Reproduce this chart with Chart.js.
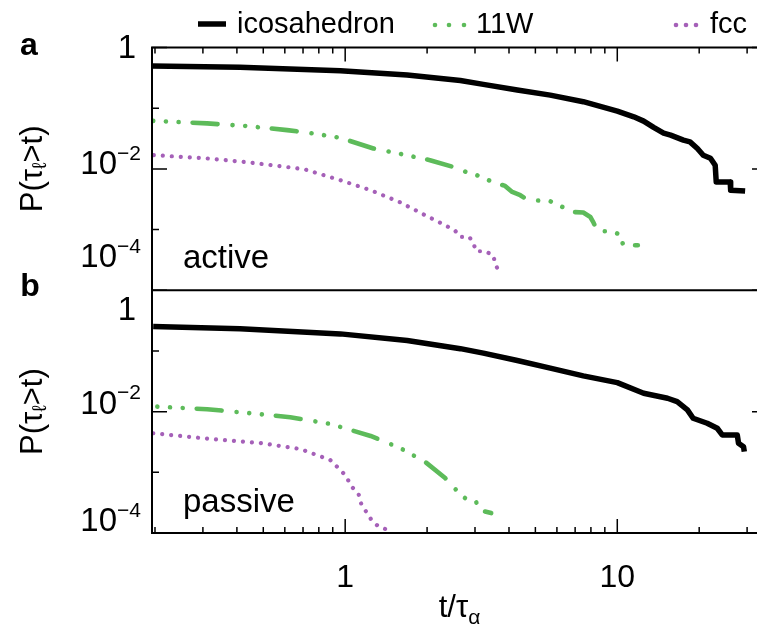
<!DOCTYPE html>
<html>
<head>
<meta charset="utf-8">
<script src="https://cdn.jsdelivr.net/npm/chart.js@4"></script>
<style>
 html,body{margin:0;padding:0;background:#fff;overflow:hidden}
 #wrap{width:790px;height:630px}
</style>
</head>
<body>
<div id="wrap"><canvas id="chart" width="790" height="630"></canvas></div>
<script>
/* ========= DATA ========= */

// panel a (active)
const aIcoT=[0.195,0.41,0.96,1.69,2.65,3.22,4.29,5.67,7.5,10,11.5,12.5,13.6,14.8,15.7,17.5,18.5,19.7,20.7,22.0,22.9,23.1,26.0,26.1,29.5]
const aIcoP=[0.495,0.471,0.414,0.352,0.285,0.247,0.199,0.164,0.128,0.0896,0.0721,0.0612,0.0482,0.0388,0.036,0.0298,0.0279,0.0217,0.0168,0.0150,0.0115,0.0061,0.0061,0.00445,0.0043]

const aW11T=[0.197,0.311,0.436,0.612,0.763,0.96,1.27,1.63,2.05,2.49,2.81,3.13,3.47,3.87,4.11,4.40,4.59,5.08,5.67,6.28,6.84,7.50,7.96,8.16,8.44,9.42,10.3,10.5,11.9]
const aW11P=[0.0619,0.0561,0.0507,0.0435,0.0384,0.0325,0.0217,0.0173,0.0139,0.0108,0.00872,0.00758,0.0061,0.00524,0.00417,0.00368,0.00325,0.00301,0.00293,0.00236,0.00195,0.00191,0.00161,0.00133,0.000937,0.000937,0.000826,0.000551,0.000551]

const aFccT=[0.198,0.311,0.422,0.577,0.713,0.96,1.24,1.59,1.97,2.33,2.54,2.65,2.86,2.96,3.03,3.27,3.50,3.56,3.65]
const aFccP=[0.01683,0.01485,0.01305,0.01109,0.00977,0.00651,0.00445,0.00282,0.00172,0.00118,0.000948,0.000755,0.000755,0.000588,0.000439,0.000439,0.000377,0.000275,0.000213]

// panel b (passive)
const bIcoT=[0.197,0.411,0.96,1.69,2.65,3.22,4.29,5.67,7.5,10,12.5,15.3,16.6,18.1,19.0,21.4,23.3,24.3,27.6,27.9,29.1,29.3]
const bIcoP=[0.253,0.232,0.191,0.1485,0.109,0.092,0.0695,0.052,0.0388,0.0301,0.0201,0.0166,0.0146,0.01067,0.00778,0.00644,0.00532,0.00413,0.00413,0.00301,0.00264,0.00219]

const bW11T=[0.204,0.311,0.448,0.628,0.881,1.24,1.59,1.97,2.33,2.60,2.81,3.03,3.11,3.44]
const bW11P=[0.0121,0.01095,0.00941,0.00809,0.00627,0.00397,0.00252,0.00148,0.000805,0.000473,0.000349,0.000324,0.000239,0.000213]

const bFccT=[0.197,0.327,0.487,0.684,0.881,1.0,1.06,1.12,1.145,1.19,1.25,1.32,1.42,1.46]
const bFccP=[0.0044,0.00351,0.00304,0.00242,0.0016,0.000902,0.000571,0.000438,0.000305,0.00023,0.000163,0.00013,0.000114,0.0001]

const seriesNames=["icosahedron","11W","fcc"]
const xTickLabels=[1,10]
const yTickLabels=[1,1e-2,1e-4]

/* ========= HELPERS ========= */

const FONT="'Liberation Sans', Arial, sans-serif"
const pts=(t,p)=>t.map((v,i)=>({x:v,y:p[i]}))

const styles={
 ico:{borderColor:"#000",borderWidth:5.5,borderCapStyle:"butt",borderJoinStyle:"round"},
 w11:{borderColor:"#5dbb5a",borderWidth:4.6,borderCapStyle:"round",borderJoinStyle:"round",borderDash:[0.01,12.7,0.01,12.7,0.01,14,25,15]},
 fcc:{borderColor:"#a560b8",borderWidth:4.2,borderCapStyle:"round",borderJoinStyle:"round",borderDash:[0.01,9]}
}

function ds(label,t,p,axis,st){
 return Object.assign({label,data:pts(t,p),yAxisID:axis,pointRadius:0,tension:0,fill:false},st)
}

function txt(ctx,parts,x,y,align){
 // parts: [text,size,dy]
 let w=0
 parts.forEach(p=>{ctx.font=p[1]+"px "+FONT;w+=ctx.measureText(p[0]).width})
 let cx=align==="right"?x-w:align==="center"?x-w/2:x
 parts.forEach(p=>{
  ctx.font=p[1]+"px "+FONT
  ctx.fillText(p[0],cx,y+(p[2]||0))
  cx+=ctx.measureText(p[0]).width
 })
}

/* ========= FRAME PLUGIN ========= */

const frame={
 id:"frame",
 afterDraw(c){
  const ctx=c.ctx,x=c.scales.x,ya=c.scales.ya,yb=c.scales.yb
  const L=x.left,R=x.right,T=ya.top,M=ya.bottom,B=yb.bottom
  ctx.save()
  ctx.strokeStyle="#000"
  ctx.lineWidth=2
  ctx.strokeRect(L,T,R-L,B-T)
  ctx.beginPath();ctx.moveTo(L,M);ctx.lineTo(R,M);ctx.stroke()

  // x ticks, top of a and bottom of b
  ctx.lineWidth=1.5
  const xv=[0.2,0.3,0.4,0.5,0.6,0.7,0.8,0.9,1,2,3,4,5,6,7,8,9,10,20,30]
  ctx.beginPath()
  xv.forEach(v=>{
   const px=x.getPixelForValue(v)
   const len=xTickLabels.includes(v)?14:6
   ctx.moveTo(px,T);ctx.lineTo(px,T+len)
   ctx.moveTo(px,B);ctx.lineTo(px,B-len)
  })
  // y ticks, both panels, both sides
  ;[ya,yb].forEach(s=>{
   [1,0.1,0.01,0.001,0.0001].forEach(v=>{
    const py=s.getPixelForValue(v)
    const len=yTickLabels.includes(v)?15:7
    ctx.moveTo(L,py);ctx.lineTo(L+len,py)
    ctx.moveTo(R,py);ctx.lineTo(R-len,py)
   })
  })
  ctx.stroke()

  ctx.fillStyle="#000"
  ctx.textBaseline="middle"
  // x tick labels
  xTickLabels.forEach(v=>txt(ctx,[[String(v),32]],x.getPixelForValue(v),578,"center"))

  // y tick labels
  const lab=(s,v,dy)=>{
   const py=s.getPixelForValue(v)+dy
   if(v===1) txt(ctx,[["1",33]],136,py,"right")
   else txt(ctx,[["10",33],["\u2212"+Math.round(-Math.log10(v)),21,-11]],141,py,"right")
  }
  lab(ya,1,1);lab(ya,1e-2,-4);lab(ya,1e-4,-32)
  lab(yb,1,21);lab(yb,1e-2,-7);lab(yb,1e-4,-11)

  // axis titles
  ;[ya,yb].forEach(s=>{
   ctx.save()
   ctx.translate(33,(s.top+s.bottom)/2)
   ctx.rotate(-Math.PI/2)
   txt(ctx,[["P(\u03c4",31],["\u2113",20,7],[">t)",31]],0,0,"center")
   ctx.restore()
  })
  ctx.textBaseline="alphabetic"
  txt(ctx,[["t/\u03c4",31],["\u03b1",21,7]],(L+757)/2+5,617,"center")

  // panel letters and names
  ctx.font="bold 32px "+FONT
  ctx.textAlign="center"
  ctx.fillText("a",29,55)
  ctx.fillText("b",30,296)
  ctx.textAlign="left"
  txt(ctx,[["active",33]],183,268,"left")
  txt(ctx,[["passive",33]],183,512,"left")

  // legend
  txt(ctx,[[seriesNames[0],29]],237,33,"left")
  txt(ctx,[[seriesNames[1],29]],476,33,"left")
  txt(ctx,[[seriesNames[2],29]],710,33,"left")
  ctx.lineWidth=5.5
  ctx.beginPath();ctx.moveTo(198,24);ctx.lineTo(226,24);ctx.stroke()
  const dots=(xs,col)=>{ctx.fillStyle=col;xs.forEach(d=>{ctx.beginPath();ctx.arc(d,25,2.3,0,Math.PI*2);ctx.fill()})}
  dots([435,449,464],styles.w11.borderColor)
  dots([676,686,696],styles.fcc.borderColor)
  ctx.restore()
 }
}

/* ========= CHART ========= */

const noAxis=(extra)=>Object.assign({
 type:"logarithmic",
 ticks:{display:false},
 grid:{display:false},
 border:{display:false}
},extra)

new Chart(document.getElementById("chart"),{
 type:"line",
 data:{datasets:[
  ds(seriesNames[0],aIcoT,aIcoP,"ya",styles.ico),
  ds(seriesNames[1],aW11T,aW11P,"ya",styles.w11),
  ds(seriesNames[2],aFccT,aFccP,"ya",styles.fcc),
  ds(seriesNames[0],bIcoT,bIcoP,"yb",styles.ico),
  ds(seriesNames[1],bW11T,bW11P,"yb",styles.w11),
  ds(seriesNames[2],bFccT,bFccP,"yb",styles.fcc)
 ]},
 options:{
  responsive:false,
  animation:false,
  layout:{padding:{left:152,top:47.5,right:23,bottom:97}},
  plugins:{legend:{display:false},tooltip:{enabled:false}},
  scales:{
   x:noAxis({position:"bottom",min:0.195,max:35.5,afterFit:s=>{s.height=0}}),
   yb:noAxis({position:"left",min:1e-4,max:1,stack:"p",stackWeight:1,afterFit:s=>{s.width=0}}),
   ya:noAxis({position:"left",min:1e-4,max:1,stack:"p",stackWeight:1,afterFit:s=>{s.width=0}})
  }
 },
 plugins:[frame]
})
</script>
</body>
</html>
